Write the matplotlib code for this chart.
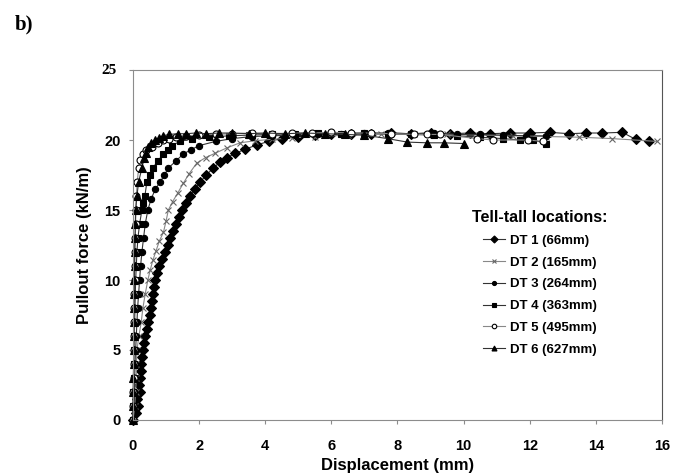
import matplotlib
matplotlib.use("Agg")
import matplotlib.pyplot as plt

# Pullout force vs displacement at six tell-tale locations
labels = ["DT 1 (66mm)", "DT 2 (165mm)", "DT 3 (264mm)",
          "DT 4 (363mm)", "DT 5 (495mm)", "DT 6 (627mm)"]

x1 = [0.0, 0.1, 0.15, 0.12, 0.2, 0.18, 0.22, 0.25, 0.25, 0.27,
      0.3, 0.33, 0.37, 0.42, 0.45, 0.5, 0.53, 0.57, 0.6, 0.63,
      0.67, 0.72, 0.8, 0.88, 0.97, 1.05, 1.13, 1.2, 1.3, 1.38,
      1.48, 1.6, 1.72, 1.87, 2.03, 2.22, 2.43, 2.62, 2.85, 3.1,
      3.4, 3.75, 4.1, 4.5, 5.0, 5.5, 6.0, 6.6, 7.2, 7.8,
      8.4, 9.0, 9.6, 10.2, 10.8, 11.4, 12.0, 12.6, 13.2, 13.7,
      14.2, 14.8, 15.2, 15.6]
y1 = [0.0, 0.5, 1.0, 1.5, 2.0, 2.5, 3.0, 3.5, 4.0, 4.5,
      5.0, 5.5, 6.0, 6.5, 7.0, 7.5, 8.0, 8.5, 9.0, 9.5,
      10.0, 10.5, 11.0, 11.5, 12.0, 12.5, 13.0, 13.5, 14.0, 14.5,
      15.0, 15.5, 16.0, 16.5, 17.0, 17.5, 18.0, 18.4, 18.75, 19.05,
      19.35, 19.65, 19.9, 20.1, 20.25, 20.35, 20.4, 20.45, 20.4, 20.5,
      20.45, 20.5, 20.45, 20.5, 20.45, 20.5, 20.5, 20.55, 20.45, 20.5,
      20.5, 20.55, 20.05, 19.9]

x2 = [0.0, 0.05, 0.08, 0.1, 0.1, 0.12, 0.18, 0.25, 0.3, 0.37,
      0.45, 0.52, 0.6, 0.7, 0.8, 0.92, 1.0, 1.07, 1.2, 1.35,
      1.52, 1.7, 1.93, 2.2, 2.48, 2.85, 3.24, 3.7, 4.2, 4.8,
      5.5, 6.5, 7.5, 8.5, 9.5, 10.5, 11.5, 12.5, 13.5, 14.5,
      15.85]
y2 = [0.0, 1.0, 2.0, 3.0, 4.0, 5.0, 6.0, 7.0, 8.0, 9.0,
      10.0, 10.7, 11.4, 12.1, 12.8, 13.4, 14.2, 15.0, 15.6, 16.2,
      16.9, 17.6, 18.35, 18.75, 19.05, 19.45, 19.8, 19.95, 20.05, 20.15,
      20.25, 20.35, 20.4, 20.45, 20.4, 20.35, 20.3, 20.25, 20.2, 20.1,
      19.9]

x3 = [0.0, 0.02, 0.04, 0.05, 0.06, 0.08, 0.1, 0.12, 0.14, 0.17,
      0.2, 0.23, 0.27, 0.32, 0.37, 0.45, 0.55, 0.68, 0.82, 0.95,
      1.07, 1.3, 1.52, 1.75, 2.0, 2.5, 3.0, 3.6, 4.2, 4.9,
      5.6, 6.3, 7.0, 7.7, 8.4, 9.1, 9.8, 10.5, 11.2, 11.9,
      12.5]
y3 = [0.0, 1.0, 2.0, 3.0, 4.0, 5.0, 6.0, 7.0, 8.0, 9.0,
      10.0, 11.0, 12.0, 13.0, 14.0, 15.0, 15.8, 16.5, 17.0, 17.5,
      18.0, 18.5, 19.0, 19.3, 19.6, 19.9, 20.1, 20.25, 20.3, 20.35,
      20.4, 20.45, 20.5, 20.5, 20.45, 20.5, 20.4, 20.4, 20.35, 20.3,
      20.3]

x4 = [0.0, 0.01, 0.01, 0.02, 0.02, 0.03, 0.04, 0.05, 0.06, 0.07,
      0.08, 0.1, 0.12, 0.15, 0.2, 0.27, 0.3, 0.36, 0.42, 0.5,
      0.6, 0.75, 0.92, 1.05, 1.17, 1.42, 1.8, 2.3, 2.9, 3.5,
      4.2, 4.9, 5.6, 6.3, 7.0, 7.7, 8.4, 9.1, 9.8, 10.5,
      11.2, 11.7, 12.1, 12.5]
y4 = [0.0, 1.0, 2.0, 3.0, 4.0, 5.0, 6.0, 7.0, 8.0, 9.0,
      10.0, 11.0, 12.0, 13.0, 14.0, 15.0, 15.5, 16.0, 17.0, 17.5,
      18.0, 18.5, 19.0, 19.3, 19.6, 19.9, 20.1, 20.2, 20.3, 20.35,
      20.4, 20.45, 20.5, 20.45, 20.5, 20.45, 20.4, 20.35, 20.3, 20.2,
      20.1, 20.0, 20.0, 19.75]

x5 = [0.0, 0.01, 0.01, 0.02, 0.02, 0.02, 0.03, 0.03, 0.04, 0.04,
      0.05, 0.05, 0.06, 0.07, 0.08, 0.09, 0.1, 0.13, 0.17, 0.22,
      0.3, 0.4, 0.57, 0.75, 0.9, 1.1, 1.3, 1.6, 2.0, 2.5,
      3.0, 3.6, 4.2, 4.8, 5.4, 6.0, 6.6, 7.2, 7.8, 8.5,
      8.9, 9.3, 10.4, 10.9, 11.95, 12.4]
y5 = [0.0, 1.0, 2.0, 3.0, 4.0, 5.0, 6.0, 7.0, 8.0, 9.0,
      10.0, 11.0, 12.0, 13.0, 14.0, 15.0, 16.0, 17.0, 18.0, 18.6,
      19.0, 19.3, 19.5, 19.8, 20.0, 20.1, 20.2, 20.3, 20.35, 20.4,
      20.45, 20.5, 20.45, 20.5, 20.5, 20.55, 20.5, 20.5, 20.45, 20.4,
      20.4, 20.4, 20.1, 20.0, 20.0, 19.9]

x6 = [0.0, 0.0, 0.01, 0.01, 0.02, 0.02, 0.02, 0.03, 0.03, 0.04,
      0.04, 0.05, 0.05, 0.06, 0.07, 0.08, 0.12, 0.17, 0.27, 0.33,
      0.38, 0.45, 0.55, 0.67, 0.78, 0.9, 1.1, 1.35, 1.6, 1.9,
      2.2, 2.6, 3.0, 3.5, 4.0, 4.6, 5.2, 5.8, 6.4, 7.0,
      7.7, 8.3, 8.9, 9.4, 10.0]
y6 = [0.0, 1.0, 2.0, 3.0, 4.0, 5.0, 6.0, 7.0, 8.0, 9.0,
      10.0, 11.0, 12.0, 13.0, 14.0, 15.0, 16.0, 17.0, 18.0, 18.7,
      19.1, 19.5, 19.8, 20.0, 20.15, 20.3, 20.4, 20.45, 20.45, 20.5,
      20.45, 20.5, 20.5, 20.45, 20.5, 20.45, 20.5, 20.45, 20.4, 20.35,
      20.1, 19.85, 19.8, 19.8, 19.75]

xs = [x1, x2, x3, x4, x5, x6]
ys = [y1, y2, y3, y4, y5, y6]

# marker, size, face colour, line colour
styles = [("D", 5.5, "black", "#333333"),
          ("x", 4.5, "#777777", "#888888"),
          ("o", 4.5, "black", "#333333"),
          ("s", 4.5, "black", "#333333"),
          ("o", 5.0, "white", "#888888"),
          ("^", 5.5, "black", "#333333")]

plt.rcParams["font.family"] = ["Liberation Sans", "DejaVu Sans"]

fig = plt.figure(figsize=(6.83, 4.75), dpi=100)
ax = fig.add_axes([0.1947, 0.1158, 0.7745, 0.7368])

for x, y, lab, (m, ms, fc, lc) in zip(xs, ys, labels, styles):
    ax.plot(x, y, color=lc, lw=0.8, marker=m, markersize=ms,
            markerfacecolor=fc, markeredgecolor="black" if m != "x" else "#666666",
            markeredgewidth=0.8, label=lab, clip_on=False)

ax.set_xlim(0, 16)
ax.set_ylim(0, 25)
ax.set_xticks(range(0, 17, 2))
ax.set_yticks(range(0, 26, 5))
ax.set_yticklabels(["0", "5", "10", "15", "20", ""])
ax.text(-0.03, 25, "25", transform=ax.get_yaxis_transform(), ha="right",
        va="center", fontsize=11, fontweight="bold", family="Liberation Serif")

for s in ["left", "bottom", "top"]:
    ax.spines[s].set_color("#8c8c8c")
ax.spines["right"].set_color("#555555")
ax.tick_params(direction="out", length=3, color="#8c8c8c", labelsize=10.5)
ax.tick_params(axis="x", pad=11)
ax.tick_params(axis="y", pad=6)
for t in ax.get_xticklabels() + ax.get_yticklabels():
    t.set_fontweight("bold")

ax.set_xlabel("Displacement (mm)", fontsize=12, fontweight="bold", labelpad=3)
ax.set_ylabel("Pullout force (kN/m)", fontsize=12, fontweight="bold", labelpad=9)

leg = ax.legend(loc="center", bbox_to_anchor=(540 / 683, 1 - 283 / 475),
                bbox_transform=fig.transFigure, frameon=False,
                title="Tell-tall locations:", fontsize=9.5, markerscale=0.65,
                handlelength=1.7, handletextpad=0.4, labelspacing=0.72)
leg.get_title().set_fontweight("bold")
leg.get_title().set_fontsize(11.5)
for t in leg.get_texts():
    t.set_fontweight("bold")

fig.text(15 / 683, 1 - 24 / 475, "b)", fontsize=15, fontweight="bold",
         family="Liberation Serif", va="center")

fig.savefig("out.png", dpi=100)
